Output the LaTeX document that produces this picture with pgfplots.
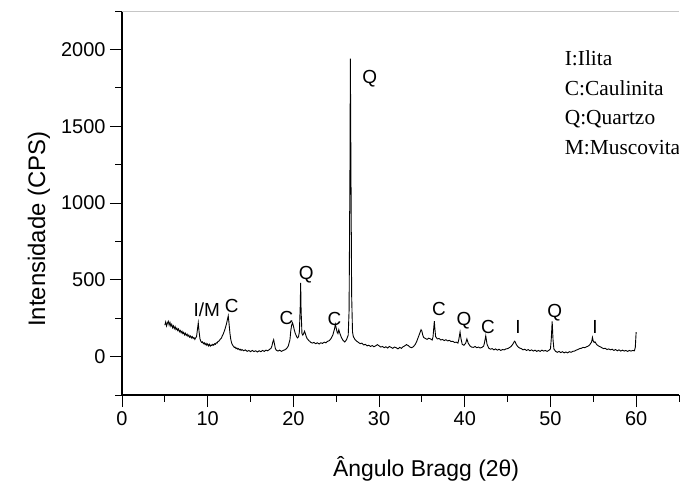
\documentclass[border=0pt]{standalone}
\usepackage{fontspec}
\setmainfont{Liberation Sans}
\newfontfamily\timesf{Liberation Serif}
\usepackage{pgfplots}
\pgfplotsset{compat=1.18}
\begin{document}
\begin{tikzpicture}
\begin{axis}[
  name=ax,
  at={(0,0)}, anchor=south west,
  scale only axis,
  width=557bp, height=384bp,
  xmin=0, xmax=65, ymin=-250, ymax=2250,
  axis x line*=bottom, axis y line*=left,
  axis line style={line width=1.1pt, black},
  tick align=outside,
  xtick={0,10,...,60}, minor xtick={5,15,...,65},
  ytick={0,500,...,2000}, minor ytick={-250,250,750,1250,1750,2250},
  major tick length=12bp, minor tick length=6.5bp,
  tick style={line width=0.9pt, black},
  /pgf/number format/assume math mode=true,
  /pgf/number format/1000 sep={},
  tick label style={font=\fontsize{20}{24}\selectfont},
  xticklabel style={yshift=-1bp},
  yticklabel style={xshift=-1bp},
  xlabel={Ângulo Bragg (2θ)},
  ylabel={Intensidade (CPS)},
  x label style={font=\fontsize{23}{27}\selectfont, at={(rel axis cs:0.546,-0.2135)}, anchor=base},
  y label style={font=\fontsize{24}{28}\selectfont, at={(rel axis cs:-0.1382,0.432)}, anchor=base},
]
\addplot[black, line width=0.9pt] coordinates {
(5.0,205)(5.1,225)(5.2,200)(5.3,218)(5.4,230)(5.5,205)(5.6,222)(5.7,198)(5.8,210)(5.9,188)
(6.0,200)(6.1,182)(6.2,195)(6.3,176)(6.4,185)(6.5,170)(6.6,180)(6.7,162)(6.8,170)(6.9,155)
(7.0,165)(7.1,150)(7.2,158)(7.3,142)(7.4,152)(7.5,138)(7.6,146)(7.7,132)(7.8,140)(7.9,126)
(8.0,134)(8.1,122)(8.2,130)(8.3,118)(8.4,124)(8.5,112)(8.6,122)(8.7,130)(8.8,175)(8.9,220)
(9.0,160)(9.1,115)(9.2,100)(9.3,92)(9.4,96)(9.5,84)(9.6,90)(9.7,78)(9.8,86)(9.9,74)
(10.0,82)(10.1,70)(10.2,80)(10.3,68)(10.4,76)(10.5,72)(10.6,80)(10.7,74)(10.8,84)(10.9,80)
(11.0,90)(11.1,88)(11.2,98)(11.3,100)(11.4,108)(11.5,115)(11.6,120)(11.7,135)(11.8,145)(11.9,160)
(12.0,175)(12.1,195)(12.2,215)(12.3,240)(12.4,265)(12.5,210)(12.6,150)(12.7,110)(12.8,88)(12.9,75)
(13.0,68)(13.1,60)(13.2,62)(13.3,52)(13.4,56)(13.5,48)(13.6,52)(13.7,44)(13.8,48)(13.9,40)
(14.0,46)(14.2,38)(14.4,44)(14.6,34)(14.8,40)(15.0,32)(15.2,40)(15.4,33)(15.6,38)(15.8,30)
(16.0,38)(16.2,32)(16.4,40)(16.6,34)(16.8,42)(17.0,38)(17.2,46)(17.4,55)(17.5,70)(17.6,95)
(17.7,110)(17.8,80)(17.9,52)(18.0,42)(18.2,36)(18.4,42)(18.6,34)(18.8,40)(19.0,44)(19.2,52)
(19.4,68)(19.6,110)(19.7,170)(19.8,205)(19.9,220)(20.0,200)(20.1,175)(20.2,155)(20.3,140)(20.4,128)
(20.5,122)(20.6,130)(20.7,160)(20.8,330)(20.85,480)(20.9,300)(21.0,150)(21.1,140)(21.2,150)(21.3,165)
(21.4,150)(21.5,130)(21.6,118)(21.7,112)(21.8,104)(21.9,100)(22.0,94)(22.2,88)(22.4,92)(22.6,84)
(22.8,90)(23.0,82)(23.2,90)(23.4,86)(23.6,94)(23.8,90)(24.0,100)(24.2,104)(24.4,118)(24.6,140)
(24.8,180)(24.9,210)(25.0,185)(25.1,160)(25.2,150)(25.3,175)(25.4,155)(25.6,125)(25.8,105)(26.0,95)
(26.2,110)(26.4,140)(26.5,300)(26.6,1200)(26.65,1940)(26.7,1400)(26.8,400)(26.9,160)(27.0,130)(27.2,110)
(27.4,100)(27.6,92)(27.8,84)(28.0,88)(28.2,76)(28.4,80)(28.6,70)(28.8,74)(29.0,66)(29.2,72)
(29.4,64)(29.6,70)(29.8,78)(30.0,70)(30.2,62)(30.4,66)(30.6,58)(30.8,64)(31.0,56)(31.2,66)
(31.4,60)(31.6,54)(31.8,62)(32.0,58)(32.2,50)(32.4,60)(32.6,54)(32.8,64)(33.0,70)(33.2,78)
(33.4,72)(33.6,62)(33.8,58)(34.0,64)(34.2,78)(34.4,100)(34.6,130)(34.8,160)(34.9,175)(35.0,165)
(35.1,140)(35.2,125)(35.4,118)(35.6,112)(35.8,120)(36.0,115)(36.2,108)(36.3,130)(36.4,200)(36.45,230)
(36.5,190)(36.6,130)(36.8,115)(37.0,118)(37.2,108)(37.4,112)(37.6,104)(37.8,110)(38.0,102)(38.2,106)
(38.4,98)(38.6,100)(38.8,92)(39.0,94)(39.2,88)(39.3,110)(39.45,160)(39.55,120)(39.7,80)(39.9,74)
(40.1,86)(40.25,115)(40.4,88)(40.6,70)(40.8,62)(41.0,60)(41.2,66)(41.4,58)(41.6,62)(41.8,56)
(42.0,60)(42.2,68)(42.3,90)(42.45,135)(42.6,80)(42.8,55)(43.0,48)(43.2,52)(43.4,44)(43.6,50)
(43.8,42)(44.0,48)(44.2,40)(44.4,46)(44.6,44)(44.8,50)(45.0,52)(45.2,58)(45.4,66)(45.6,80)
(45.8,100)(45.9,95)(46.0,80)(46.2,64)(46.4,56)(46.6,52)(46.8,44)(47.0,48)(47.2,40)(47.4,46)
(47.6,38)(47.8,44)(48.0,36)(48.2,42)(48.4,34)(48.6,40)(48.8,34)(49.0,42)(49.2,36)(49.4,40)
(49.6,34)(49.8,40)(50.0,50)(50.1,120)(50.2,230)(50.3,110)(50.4,50)(50.6,34)(50.8,28)(51.0,34)
(51.2,26)(51.4,32)(51.6,24)(51.8,30)(52.0,24)(52.2,32)(52.4,28)(52.6,34)(52.8,36)(53.0,42)
(53.2,46)(53.4,52)(53.6,54)(53.8,60)(54.0,58)(54.2,64)(54.4,68)(54.6,78)(54.8,95)(54.9,125)
(55.0,100)(55.1,92)(55.2,96)(55.4,78)(55.6,70)(55.8,64)(56.0,58)(56.2,52)(56.4,54)(56.6,46)
(56.8,50)(57.0,44)(57.2,48)(57.4,40)(57.6,46)(57.8,38)(58.0,44)(58.2,36)(58.4,42)(58.6,36)
(58.8,40)(59.0,34)(59.2,40)(59.4,36)(59.6,40)(59.8,38)(59.9,60)(60.0,160)
};
% peak labels
\begin{scope}[every node/.style={font=\fontsize{19}{22}\selectfont, inner sep=0pt, anchor=base}]
\node at (axis cs:9.9,261) {I/M};
\node at (axis cs:12.8,287) {C};
\node at (axis cs:19.2,208) {C};
\node at (axis cs:21.5,500) {Q};
\node at (axis cs:24.8,202) {C};
\node at (axis cs:28.9,1780) {Q};
\node at (axis cs:37.0,267) {C};
\node at (axis cs:39.9,200) {Q};
\node at (axis cs:42.7,150) {C};
\node at (axis cs:46.2,150) {I};
\node at (axis cs:50.5,253) {Q};
\node at (axis cs:55.2,150) {I};
\end{scope}
\draw[gray!45, line width=0.8pt] (rel axis cs:0,1) -- (rel axis cs:1,1) -- (rel axis cs:1,0);
% legend text
\begin{scope}[every node/.style={font=\timesf\fontsize{21.5}{25}\selectfont, inner sep=0pt, anchor=base west, fill=white}]
\node at (axis cs:51.65,1896) {I:Ilita};
\node at (axis cs:51.65,1703) {C:Caulinita};
\node at (axis cs:51.65,1510) {Q:Quartzo};
\node at (axis cs:51.65,1317) {M:Muscovita};
\end{scope}
\end{axis}
\path[use as bounding box] (-122bp,-92bp) rectangle (566bp,395bp);
\end{tikzpicture}
\end{document}
